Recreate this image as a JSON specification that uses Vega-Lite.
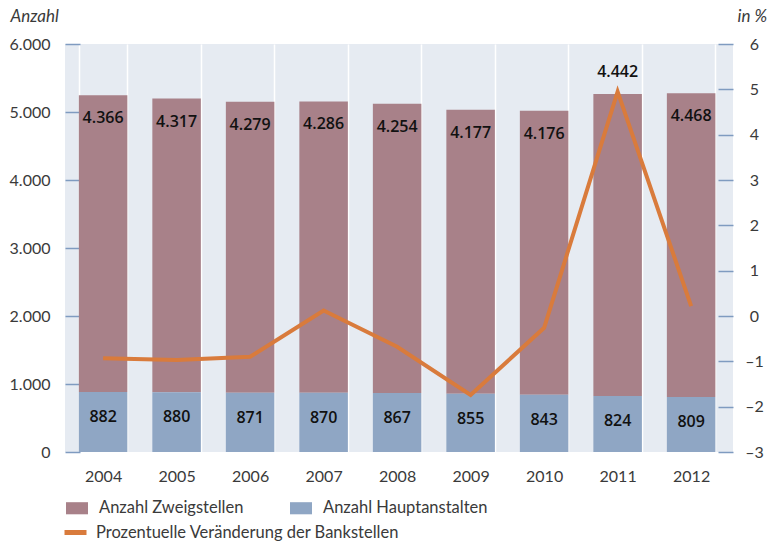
{
  "$schema": "https://vega.github.io/schema/vega-lite/v6.json",
  "autosize": {"type": "none"},
  "padding": {"left": 65, "top": 44, "right": 38, "bottom": 92},
  "width": 668,
  "height": 408,
  "config": {
    "locale": {"number": {"decimal": ",", "thousands": ".", "grouping": [3], "currency": ["", " €"], "minus": "–"}},
    "view": {"fill": "#e6ebf2", "stroke": null},
    "font": "Lato",
    "axis": {"labelFont": "Lato", "labelFontSize": 16, "labelColor": "#3a3a3a", "titleFont": "Lato"},
    "legend": {"labelFont": "Lato", "labelFontSize": 16.5, "labelColor": "#3a3a3a", "labelLimit": 500}
  },
  "data": {"values": [
    {"Jahr": "2004", "Anzahl Zweigstellen": 4366, "Anzahl Hauptanstalten": 882, "Bankstellen": 5248, "Veraenderung": -0.93},
    {"Jahr": "2005", "Anzahl Zweigstellen": 4317, "Anzahl Hauptanstalten": 880, "Bankstellen": 5197, "Veraenderung": -0.97},
    {"Jahr": "2006", "Anzahl Zweigstellen": 4279, "Anzahl Hauptanstalten": 871, "Bankstellen": 5150, "Veraenderung": -0.90},
    {"Jahr": "2007", "Anzahl Zweigstellen": 4286, "Anzahl Hauptanstalten": 870, "Bankstellen": 5156, "Veraenderung": 0.12},
    {"Jahr": "2008", "Anzahl Zweigstellen": 4254, "Anzahl Hauptanstalten": 867, "Bankstellen": 5121, "Veraenderung": -0.68},
    {"Jahr": "2009", "Anzahl Zweigstellen": 4177, "Anzahl Hauptanstalten": 855, "Bankstellen": 5032, "Veraenderung": -1.74},
    {"Jahr": "2010", "Anzahl Zweigstellen": 4176, "Anzahl Hauptanstalten": 843, "Bankstellen": 5019, "Veraenderung": -0.26},
    {"Jahr": "2011", "Anzahl Zweigstellen": 4442, "Anzahl Hauptanstalten": 824, "Bankstellen": 5266, "Veraenderung": 4.95},
    {"Jahr": "2012", "Anzahl Zweigstellen": 4468, "Anzahl Hauptanstalten": 809, "Bankstellen": 5277, "Veraenderung": 0.22}
  ]},
  "encoding": {
    "x": {
      "field": "Jahr", "type": "ordinal",
      "scale": {"paddingInner": 0.34, "paddingOuter": 0.214, "align": 0.44},
      "axis": {"title": null, "labelAngle": 0, "domain": false, "ticks": false, "grid": true, "gridColor": "#ffffff", "gridWidth": 1.5, "tickBand": "extent", "labelPadding": 16}
    }
  },
  "layer": [
    {
      "layer": [
        {
          "transform": [{"fold": ["Anzahl Zweigstellen", "Anzahl Hauptanstalten"], "as": ["Serie", "Anzahl"]}],
          "mark": {"type": "bar"},
          "encoding": {
            "y": {"field": "Anzahl", "type": "quantitative", "stack": "zero",
              "scale": {"domain": [0, 6000], "nice": false},
              "axis": {"title": "Anzahl", "orient": "left", "values": [0, 1000, 2000, 3000, 4000, 5000, 6000], "format": ",d", "domain": false, "grid": false, "tickSize": -15, "tickColor": "#7f9bc0", "tickWidth": 1.5, "labelPadding": 30,
                "titleAngle": 0, "titleX": -55, "titleY": -19, "titleAlign": "left", "titleBaseline": "bottom", "titleFontStyle": "italic", "titleFontWeight": "normal", "titleFontSize": 17, "titleColor": "#3a3a3a"}},
            "fill": {"field": "Serie", "type": "nominal",
              "scale": {"domain": ["Anzahl Zweigstellen", "Anzahl Hauptanstalten"], "range": ["#a88189", "#8fa6c4"]},
              "legend": {"title": null, "orient": "none", "legendX": 1, "legendY": 453, "direction": "horizontal", "symbolType": "M-1,-0.55H1V0.55H-1Z", "symbolSize": 484, "symbolStrokeWidth": 0, "labelOffset": 11, "columnPadding": 46}},
            "order": {"field": "Serie", "sort": "ascending"}
          }
        },
        {
          "transform": [{"filter": "datum.Jahr != '2011'"}],
          "mark": {"type": "text", "baseline": "middle", "dy": 23, "fontSize": 16, "fontWeight": 600, "font": "Open Sans", "color": "#111111"},
          "encoding": {
            "y": {"field": "Bankstellen", "type": "quantitative"},
            "text": {"field": "Anzahl Zweigstellen", "type": "quantitative", "format": ",d"}
          }
        },
        {
          "transform": [{"filter": "datum.Jahr == '2011'"}],
          "mark": {"type": "text", "baseline": "middle", "dy": -22, "fontSize": 16, "fontWeight": 600, "font": "Open Sans", "color": "#111111"},
          "encoding": {
            "y": {"field": "Bankstellen", "type": "quantitative"},
            "text": {"field": "Anzahl Zweigstellen", "type": "quantitative", "format": ",d"}
          }
        },
        {
          "mark": {"type": "text", "baseline": "middle", "dy": 25, "fontSize": 16, "fontWeight": 600, "font": "Open Sans", "color": "#111111"},
          "encoding": {
            "y": {"field": "Anzahl Hauptanstalten", "type": "quantitative"},
            "text": {"field": "Anzahl Hauptanstalten", "type": "quantitative", "format": ",d"}
          }
        }
      ]
    },
    {
      "mark": {"type": "line", "strokeWidth": 4, "strokeJoin": "miter"},
      "encoding": {
        "y": {"field": "Veraenderung", "type": "quantitative",
          "scale": {"domain": [-3, 6], "nice": false, "zero": false},
          "axis": {"title": "in %", "orient": "right", "values": [-3, -2, -1, 0, 1, 2, 3, 4, 5, 6], "format": "d", "domain": false, "grid": false, "tickSize": -15, "tickColor": "#7f9bc0", "tickWidth": 1.5, "labelPadding": 36, "labelAlign": "center",
            "titleAngle": 0, "titleX": 4, "titleY": -19, "titleAlign": "left", "titleBaseline": "bottom", "titleFontStyle": "italic", "titleFontWeight": "normal", "titleFontSize": 17, "titleColor": "#3a3a3a"}},
        "stroke": {"datum": "Prozentuelle Veränderung der Bankstellen",
          "scale": {"range": ["#d97b3c"]},
          "legend": {"title": null, "orient": "none", "legendX": -3, "legendY": 475, "symbolType": "stroke", "symbolSize": 484, "symbolStrokeWidth": 5, "labelOffset": 7}}
      }
    }
  ],
  "resolve": {"scale": {"y": "independent"}}
}
